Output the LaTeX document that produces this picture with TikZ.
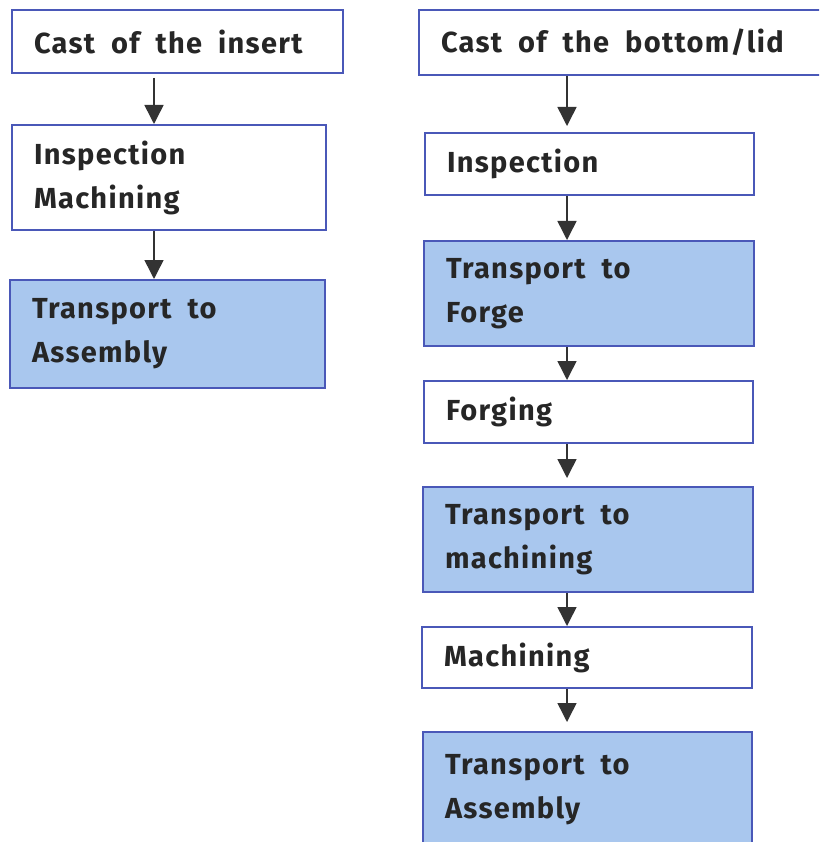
\documentclass[tikz,border=0pt]{standalone}
\usepackage{fontspec}
\setmainfont{Fira Sans}[LetterSpace=4.5]
\usetikzlibrary{arrows.meta}
\definecolor{boxline}{HTML}{4A58B8}
\definecolor{boxfill}{HTML}{A9C7EE}
\tikzset{
  stepbox/.style={draw=boxline, line width=2pt, rectangle, inner xsep=21pt, inner ysep=0pt,
    align=flush left, font={\fontsize{29}{44}\selectfont\bfseries\spaceskip=16pt\relax}, text=black!85},
  fillbox/.style={stepbox, fill=boxfill},
  arr/.style={draw=black!80, line width=1.5pt, -{Triangle[width=19pt,length=19pt]}}
}
\newcommand{\mybox}[7]{% name, style, x1, y1, x2, y2, text
  \node[#2, minimum width={#5pt-#3pt}, minimum height={#6pt-#4pt}, text width={#5pt-#3pt-44pt}]
    (#1) at ({(#3+#5)/2},{(#4+#6)/2}) {#7};}
\begin{document}
\begin{tikzpicture}[x=1pt,y=-1pt]
\useasboundingbox (0,0) rectangle (819,842);
\fill[white] (0,0) rectangle (819,842);
\clip (0,0) rectangle (819,842);
% left column
\mybox{L1}{stepbox}{12}{10}{343}{73}{Cast of the insert}
\mybox{L2}{stepbox}{12}{125}{326}{230}{Inspection\\Machining}
\mybox{L3}{fillbox}{10}{280}{325}{388}{Transport to\\Assembly}
% right column
\mybox{R1}{stepbox}{419}{10}{824}{75}{Cast of the bottom/lid}
\mybox{R2}{stepbox}{425}{133}{754}{195}{Inspection}
\mybox{R3}{fillbox}{424}{241}{754}{346}{Transport to\\Forge}
\mybox{R4}{stepbox}{424}{381}{753}{443}{Forging}
\mybox{R5}{fillbox}{423}{487}{753}{592}{Transport to\\machining}
\mybox{R6}{stepbox}{422}{627}{752}{688}{Machining}
\mybox{R7}{fillbox}{423}{732}{752}{848}{Transport to\\Assembly}
% arrow columns
\coordinate (cl) at (154,0);
\coordinate (cr) at (567,0);
\draw[arr] ([yshift=-4pt]L1.south -| cl) -- (L2.north -| cl);
\draw[arr] (L2.south -| cl) -- (L3.north -| cl);
\draw[arr] (R1.south -| cr) -- ([yshift=6pt]R2.north -| cr);
\draw[arr] (R2.south -| cr) -- (R3.north -| cr);
\draw[arr] (R3.south -| cr) -- (R4.north -| cr);
\draw[arr] (R4.south -| cr) -- ([yshift=8pt]R5.north -| cr);
\draw[arr] (R5.south -| cr) -- (R6.north -| cr);
\draw[arr] (R6.south -| cr) -- ([yshift=9pt]R7.north -| cr);
\end{tikzpicture}
\end{document}
